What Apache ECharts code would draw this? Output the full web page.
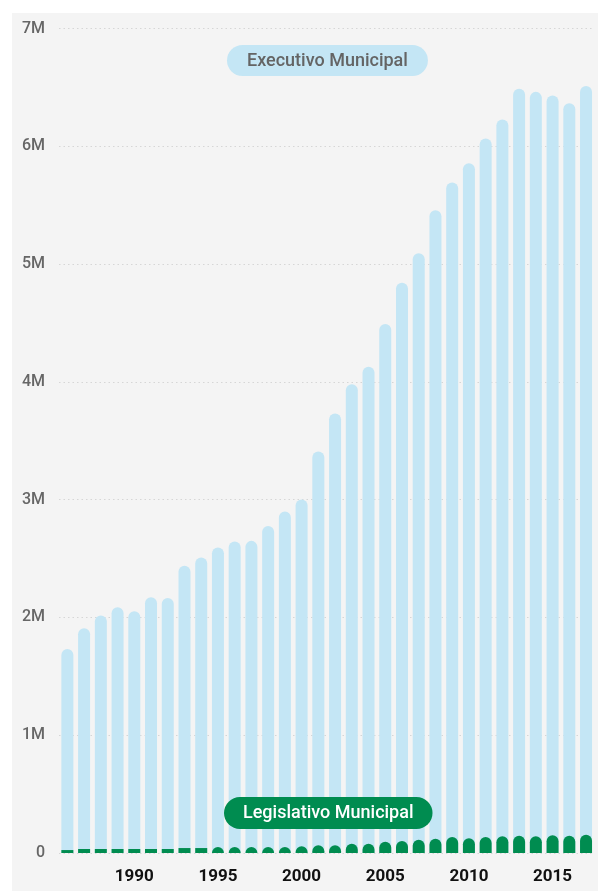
<!DOCTYPE html>
<html>
<head>
<meta charset="utf-8">
<script src="https://cdn.jsdelivr.net/npm/echarts@6/dist/echarts.min.js"></script>
<style>
html,body{margin:0;padding:0;background:#ffffff;}
#chart{width:598px;height:891px;}
</style>
</head>
<body>
<div id="chart"></div>
<script>
const years = ['1986','1987','1988','1989','1990','1991','1992','1993','1994','1995','1996','1997','1998','1999','2000','2001','2002','2003','2004','2005','2006','2007','2008','2009','2010','2011','2012','2013','2014','2015','2016','2017'];
const executivo = [1731000,1909000,2017000,2087000,2053000,2172000,2164000,2438000,2509000,2594000,2645000,2650000,2777000,2899000,3001000,3408000,3731000,3979000,4129000,4491000,4842000,5091000,5458000,5693000,5857000,6067000,6228000,6488000,6462000,6431000,6366000,6512000];
const legislativo = [25000,34000,34000,34000,34000,34000,34000,42000,42000,51000,51000,51000,51000,52000,57000,65000,65000,79000,79000,96000,102000,113000,121000,136000,125000,136000,142000,147000,142000,150000,147000,155000];
const yTicks = [0,1000000,2000000,3000000,4000000,5000000,6000000,7000000];
const seriesNames = ['Executivo Municipal','Legislativo Municipal'];

const chart = echarts.init(document.getElementById('chart'), null, {renderer:'canvas'});
const option = {
  animation:false,
  backgroundColor:'#ffffff',
  graphic:[{type:'rect', z:-10, silent:true, shape:{x:12,y:13,width:600,height:900}, style:{fill:'#f4f4f4'}}],
  title:[
    {text:seriesNames[0], left:227, top:45, backgroundColor:'#c4e6f5', borderRadius:16, padding:[7,20,6,20],
     textStyle:{color:'#646464', fontSize:18, fontWeight:500, fontFamily:'Roboto'}},
    {text:seriesNames[1], left:224, top:797, backgroundColor:'#008c50', borderRadius:16, padding:[7,19,7,19],
     textStyle:{color:'#ffffff', fontSize:18, fontWeight:500, fontFamily:'Roboto'}}
  ],
  grid:{left:59, right:3.6, top:28.5, bottom:38, containLabel:false, outerBoundsMode:'none'},
  xAxis:{
    type:'category', data:years,
    axisLine:{show:false}, axisTick:{show:false},
    axisLabel:{interval:(i,v)=> (+v)%5===0, color:'#111111', fontSize:17, fontWeight:'bold', fontFamily:'Roboto', margin:15}
  },
  yAxis:{
    type:'value', min:yTicks[0], max:yTicks[yTicks.length-1], interval:yTicks[1]-yTicks[0],
    axisLine:{show:false}, axisTick:{show:false},
    axisLabel:{color:'#666666', fontSize:16, fontWeight:500, fontFamily:'Roboto', margin:14, formatter:v=> v===0?'0':(v/1e6)+'M'},
    splitLine:{show:true, lineStyle:{color:'#d6d6d6', type:[1.5,3], width:1}}
  },
  series:[
    {name:seriesNames[0], type:'bar', data:executivo, barWidth:12, barGap:'-100%',
     itemStyle:{color:'#c4e6f5', borderRadius:[6,6,0,0]}},
    {name:seriesNames[1], type:'bar', barWidth:12, barGap:'-100%',
     data:legislativo.map((v,i)=>({value:v, itemStyle:{borderRadius:(+years[i])<1995?0:[6,6,0,0]}})),
     itemStyle:{color:'#008c50'}}
  ]
};
chart.setOption(option);
</script>
</body>
</html>
